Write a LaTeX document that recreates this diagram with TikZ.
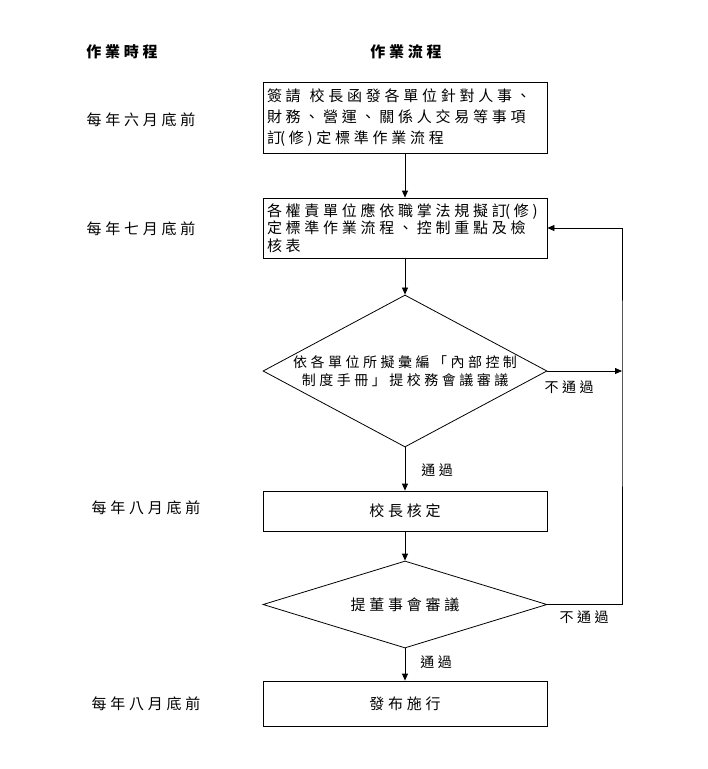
\documentclass[tikz,border=0pt]{standalone}
\usepackage{fontspec}
\setmainfont{Noto Sans CJK TC}[LetterSpace=25]
\usetikzlibrary{shapes.geometric,arrows.meta}

\begin{document}
\begin{tikzpicture}[x=1bp, y=-1bp, line width=0.8bp, >={Triangle[length=7bp,width=6bp]},
		box/.style={draw, rectangle, minimum width=284bp, inner sep=4bp, font=\fontsize{15bp}{20bp}\selectfont},
		decide/.style={draw, diamond, inner sep=0pt, minimum width=284bp},
		when/.style={font=\fontsize{15bp}{18bp}\selectfont},
		head/.style={font=\fontsize{15bp}{18bp}\selectfont\bfseries},
		tag/.style={font=\fontsize{14bp}{16bp}\selectfont}]
			\useasboundingbox (0,0) rectangle (708,769);
			
			\node[head] (colTime) at (122, 52) {作業時程};
			\node[head] (colFlow) at (406, 52) {作業流程};
			
			\node[when] (t1) at (141, 120) {每年六月底前};
			\node[when] (t2) at (141, 229) {每年七月底前};
			\node[when] (t3) at (146, 508) {每年八月底前};
			\node[when] (t4) at (146, 704) {每年八月底前};
			
			\node[box, minimum height=71bp, text width=276bp, align=left, font=\fontsize{15bp}{21bp}\selectfont] (plan) at (405, 117.5)
				{簽請\hspace{9bp}校長函發各單位針對人事、\\財務、營運、關係人交易等事項\\訂\kern-2bp(修)定標準作業流程};
			\node[box, minimum height=60bp, text width=276bp, align=left, font=\fontsize{15bp}{17.5bp}\selectfont] (draft) at (405, 228)
				{各權責單位應依職掌法規擬訂\kern-2bp(修)\\定標準作業流程、控制重點及檢\\核表};
			
			\node[decide, minimum height=152bp] (review) at (405, 371) {};
			\node[align=center, font=\fontsize{14bp}{18bp}\selectfont] (reviewText) at (review) {依各單位所擬彙編「內部控制\\制度手冊」提校務會議審議};
			
			\node[box, minimum height=40bp] (approve) at (405, 511) {校長核定};
			
			\node[decide, minimum height=87bp] (board) at (405, 604.5) {};
			\node[font=\fontsize{15bp}{18bp}\selectfont] (boardText) at (board) {提董事會審議};
			
			\node[box, minimum height=45bp] (publish) at (405, 703.5) {發布施行};
			
			\coordinate (back) at (622, 371);
			
			\draw[->] (plan) -- (draft);
			\draw[->] (draft) -- (review);
			\draw[->] (review) -- (approve);
			\draw[->] (approve) -- (board);
			\draw[->] (board) -- (publish);
			\draw[->] (review.east) -- (back);
			\draw[->] (board.east) -| (back) |- (draft.east);
			
			\node[tag] (pass1) at (437, 470) {通過};
			\node[tag] (pass2) at (436, 662) {通過};
			\node[tag] (fail1) at (569, 387) {不通過};
			\node[tag] (fail2) at (584, 617) {不通過};
		\end{tikzpicture}
\end{document}
